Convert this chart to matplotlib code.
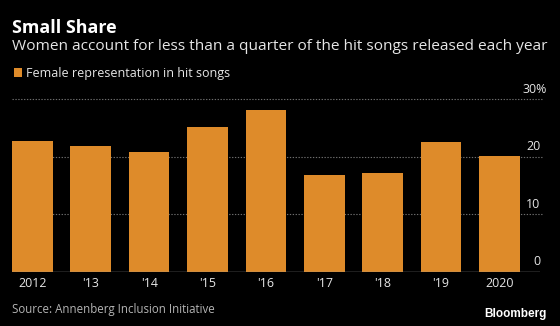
import matplotlib
matplotlib.use("Agg")
import matplotlib.pyplot as plt
from matplotlib.patches import Rectangle
from matplotlib.transforms import blended_transform_factory, offset_copy

years = ["2012", "'13", "'14", "'15", "'16", "'17", "'18", "'19", "2020"]
share = [22.7, 21.9, 20.9, 25.1, 28.1, 16.8, 17.1, 22.5, 20.2]
y_ticks = [0, 10, 20, 30]
y_tick_labels = ["0", "10", "20", "30%"]

W, H = 560, 326
BG = "#000000"
BAR = "#DE8B2A"
TXT = "#E6E6E6"
GRID = "#6E6E6E"
FONT = ["Open Sans", "DejaVu Sans"]

fig = plt.figure(figsize=(W / 100, H / 100), dpi=100, facecolor=BG)

def px(x, y):
    return x / W, 1 - y / H

ax_left, ax_right, ax_top, ax_bottom = 12, 540, 99.3, 271.5
ax = fig.add_axes([ax_left / W, 1 - ax_bottom / H,
                   (ax_right - ax_left) / W, (ax_bottom - ax_top) / H])
ax.set_facecolor(BG)

pitch = 58.4
x0 = -(32.3 - ax_left) / pitch
ax.set_xlim(x0, x0 + (ax_right - ax_left) / pitch)
ax.set_ylim(0, 30)

for v in y_ticks[1:]:
    ax.axhline(v, xmin=0, xmax=1.004, color=GRID, lw=0.8,
               ls=(0, (1.2, 1.4)), zorder=1, clip_on=False)

ax.bar(range(len(years)), share, width=0.695, color=BAR, zorder=2)
ax.axhline(0, color="#9A9A9A", lw=1.0, zorder=3)

for s in ax.spines.values():
    s.set_visible(False)
ax.set_yticks([])
ax.set_xticks(range(len(years)))
ax.set_xticklabels(years, color=TXT, fontsize=8.9, family=FONT)
ax.tick_params(axis="x", length=0, pad=4)

# value labels sit just above their gridlines; the "%" hangs past the column
tr = blended_transform_factory(ax.transAxes, ax.transData)
for v, lab in zip(y_ticks, y_tick_labels):
    shift = 6 if lab.endswith("%") else 0
    t = offset_copy(tr, fig=fig, x=shift + 0.5, y=6.5, units="dots")
    ax.text(1.0, v, lab, transform=t, ha="right", va="baseline",
            color=TXT, fontsize=8.9, family=FONT)

fig.text(*px(12, 32.7), "Small Share", color="white", fontsize=12.9,
         fontweight="bold", family=FONT, va="baseline", ha="left")
fig.text(*px(12, 50), "Women account for less than a quarter of the hit songs released each year",
         color=TXT, fontsize=11.05, family=FONT, va="baseline", ha="left")

fig.patches.append(Rectangle(px(13.5, 76.7), 8.5 / W, 8.4 / H, transform=fig.transFigure,
                             facecolor=BAR, edgecolor="none"))
fig.text(*px(26.5, 76.8), "Female representation in hit songs", color=TXT,
         fontsize=9, family=FONT, va="baseline", ha="left")

fig.text(*px(12, 313.5), "Source: Annenberg Inclusion Initiative", color="#B4B4B4",
         fontsize=8.3, family=FONT, va="baseline", ha="left")
fig.text(*px(547, 314), "Bloomberg", color="white", fontsize=8.5,
         fontweight="bold", family=["Liberation Sans", "DejaVu Sans"],
         va="center", ha="right")

fig.savefig("out.png", dpi=100, facecolor=BG)
